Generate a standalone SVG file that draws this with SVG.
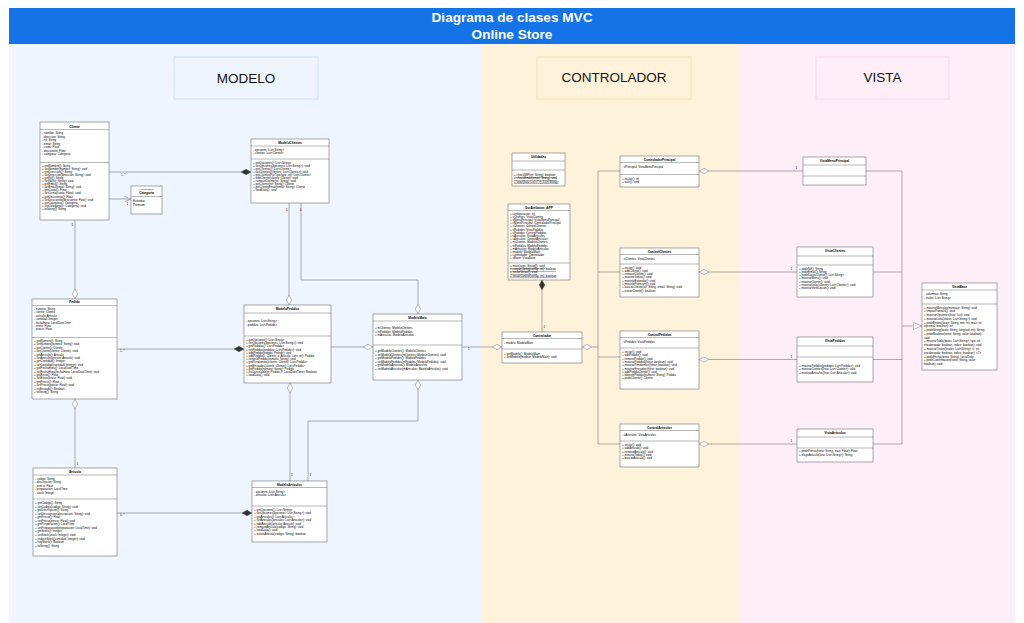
<svg xmlns="http://www.w3.org/2000/svg" width="1024" height="623" viewBox="0 0 1024 623">
<style>
.b{fill:#fff;stroke:#6f6f6f;stroke-width:0.6}
.s{stroke:#6f6f6f;stroke-width:0.5}
.t{font-family:"Liberation Sans",Arial,sans-serif;font-size:2.95px;fill:#000}
.n{font-weight:bold;font-size:3.2px;text-anchor:middle}
.u{text-decoration:underline}
.c{stroke:#8a8a8a;stroke-width:0.7;fill:none}
.lb{font-family:"Liberation Sans",Arial,sans-serif;font-size:3px;fill:#111}
.sec{font-family:"Liberation Sans",Arial,sans-serif;font-size:13.5px;fill:#111;text-anchor:middle}
.hd{font-family:"Liberation Sans",Arial,sans-serif;font-size:13.6px;font-weight:bold;fill:#fff;text-anchor:middle}
</style>
<defs>
<marker id="dF" viewBox="0 0 10 6" refX="10" refY="3" markerWidth="10" markerHeight="6" markerUnits="userSpaceOnUse" orient="auto"><path d="M0.3,3 L5,0.3 L9.7,3 L5,5.7 Z" fill="#333" stroke="#333" stroke-width="0.5"/></marker>
<marker id="dO" viewBox="0 0 10 6" refX="10" refY="3" markerWidth="10" markerHeight="6" markerUnits="userSpaceOnUse" orient="auto"><path d="M0.3,3 L5,0.3 L9.7,3 L5,5.7 Z" fill="#fff" stroke="#8a8a8a" stroke-width="0.6"/></marker>
<marker id="tri" viewBox="0 0 9 8" refX="9" refY="4" markerWidth="9" markerHeight="8" markerUnits="userSpaceOnUse" orient="auto"><path d="M0.3,0.5 L8.7,4 L0.3,7.5 Z" fill="#fff" stroke="#8a8a8a" stroke-width="0.6"/></marker>
<marker id="arr" viewBox="0 0 6 6" refX="6" refY="3" markerWidth="6" markerHeight="6" markerUnits="userSpaceOnUse" orient="auto"><path d="M0,0.5 L5.8,3 L0,5.5" fill="none" stroke="#8a8a8a" stroke-width="0.6"/></marker>
</defs>
<rect x="0" y="0" width="1024" height="623" fill="#fff"/>
<g id="background">
<rect x="9" y="44" width="472" height="579" fill="#EEF5FE"/>
<rect x="481" y="44" width="258" height="579" fill="#FFF2DB"/>
<rect x="739" y="44" width="276" height="579" fill="#FEEEF8"/>
<rect x="9" y="8" width="1006" height="36" fill="#1473E6"/>
<text class="hd" x="512" y="22">Diagrama de clases MVC</text>
<text class="hd" x="512" y="39">Online Store</text>
</g>
<g id="lbl-modelo"><rect x="174" y="57" width="144" height="42" fill="#EDF4FD" stroke="#C6DCF4" stroke-width="0.8"/><text class="sec" x="246" y="83">MODELO</text></g>
<g id="lbl-controlador"><rect x="537" y="57" width="154" height="42" fill="#FFF2DB" stroke="#F1DCA6" stroke-width="0.8"/><text class="sec" x="614" y="82">CONTROLADOR</text></g>
<g id="lbl-vista"><rect x="816" y="57" width="133" height="42" fill="#FEEEF8" stroke="#F4D0E9" stroke-width="0.8"/><text class="sec" x="882.5" y="82">VISTA</text></g>

<g id="connectors">
<path class="c" d="M109,172 H251" marker-end="url(#dF)"/>
<path class="c" d="M109,199 H131" marker-end="url(#arr)"/>
<path class="c" d="M75,220 V299" marker-end="url(#dO)"/>
<path class="c" d="M289,203 V305" marker-end="url(#dO)"/>
<path class="c" d="M301,203 V280 H418 V314" marker-end="url(#dO)"/>
<path class="c" d="M117,349 H244" marker-end="url(#dF)"/>
<path class="c" d="M75,468 V399" marker-end="url(#dO)"/>
<path class="c" d="M331,347 H373" marker-end="url(#dO)"/>
<path class="c" d="M290,481 V383" marker-end="url(#dO)"/>
<path class="c" d="M308,481 V421 H418 V380" marker-end="url(#dO)"/>
<path class="c" d="M117,513 H252" marker-end="url(#dF)"/>
<path class="c" d="M462,347 H502" marker-end="url(#dO)"/>
<path class="c" d="M542,332 V280" marker-end="url(#dF)"/>
<path class="c" d="M620,171 H598 V444 H620 M620,272 H598 M620,357 H598"/>
<path class="c" d="M598,347 H582" marker-end="url(#dO)"/>
<path class="c" d="M803,171 H699" marker-end="url(#dO)"/>
<path class="c" d="M797,272 H699" marker-end="url(#dO)"/>
<path class="c" d="M797,359.5 H699" marker-end="url(#dO)"/>
<path class="c" d="M797,444 H699" marker-end="url(#dO)"/>
<path class="c" d="M866,171 H902 V444 H873 M873,272 H902 M873,359.5 H902"/>
<path class="c" d="M902,326 H922" marker-end="url(#tri)"/>
<text class="lb" x="121" y="176">1..*</text>
<text class="lb" x="126.5" y="204.5">1</text>
<text class="lb" x="71.5" y="226">1</text>
<text class="lb" x="286" y="211">1</text>
<text class="lb" x="300" y="211">1</text>
<text class="lb" x="120" y="352">1..*</text>
<text class="lb" x="76.5" y="465">1</text>
<text class="lb" x="291" y="476">1</text>
<text class="lb" x="309.5" y="476">1</text>
<text class="lb" x="120" y="516">0..*</text>
<text class="lb" x="468" y="350">1</text>
<text class="lb" x="543.5" y="327.5">1</text>
<text class="lb" x="795.5" y="169">1</text>
<text class="lb" x="790.5" y="270">1</text>
<text class="lb" x="790.5" y="357.5">1</text>
<text class="lb" x="790.5" y="442">1</text>
</g>

<g id="cliente">
<rect class="b" x="40" y="122" width="69" height="98"/>
<text class="t n" x="74.5" y="127.5">Cliente</text>
<line class="s" x1="40" y1="129.5" x2="109" y2="129.5"/>
<text class="t" y="134"><tspan x="42" dy="0">- nombre: String</tspan><tspan x="42" dy="3.5">- direccion: String</tspan><tspan x="42" dy="3.5">- nif: String</tspan><tspan x="42" dy="3.5">- email: String</tspan><tspan x="42" dy="3.5">- cuota: Float</tspan><tspan x="42" dy="3.5">- descuento: Float</tspan><tspan x="42" dy="3.5">- categoria: Categoria</tspan></text>
<line class="s" x1="40" y1="162.5" x2="109" y2="162.5"/>
<text class="t" y="167"><tspan x="42" dy="0">+ getNombre(): String</tspan><tspan x="42" dy="3.05">+ setNombre(nombre: String): void</tspan><tspan x="42" dy="3.05">+ getDireccion(): String</tspan><tspan x="42" dy="3.05">+ setDireccion(direccion: String): void</tspan><tspan x="42" dy="3.05">+ getNif(): String</tspan><tspan x="42" dy="3.05">+ setNif(nif: String): void</tspan><tspan x="42" dy="3.05">+ getEmail(): String</tspan><tspan x="42" dy="3.05">+ setEmail(email: String): void</tspan><tspan x="42" dy="3.05">+ getCuota(): Float</tspan><tspan x="42" dy="3.05">+ setCuota(cuota: Float): void</tspan><tspan x="42" dy="3.05">+ getDescuento(): Float</tspan><tspan x="42" dy="3.05">+ setDescuento(descuento: Float): void</tspan><tspan x="42" dy="3.05">+ getCategoria(): Categoria</tspan><tspan x="42" dy="3.05">+ setCategoria(c: Categoria): void</tspan><tspan x="42" dy="3.05">+ toString(): String</tspan></text>
</g>

<g id="categoria">
<rect class="b" x="131" y="186" width="31" height="28"/>
<text class="t" x="146.5" y="190" style="font-size:2.3px;text-anchor:middle">«enumeration»</text>
<text class="t n" x="146.5" y="194">Categoria</text>
<line class="s" x1="131" y1="196.5" x2="162" y2="196.5"/>
<text class="t" y="202"><tspan x="133" dy="0">Estandar</tspan><tspan x="133" dy="3.5">Premium</tspan></text>
</g>

<g id="modelo-clientes">
<rect class="b" x="251" y="139" width="78" height="64"/>
<text class="t n" x="290" y="143.6">ModeloClientes</text>
<line class="s" x1="251" y1="146" x2="329" y2="146"/>
<text class="t" y="151"><tspan x="253" dy="0">- opciones: List&lt;String&gt;</tspan><tspan x="253" dy="3.4">- clientes: List&lt;Cliente&gt;</tspan></text>
<line class="s" x1="251" y1="159" x2="329" y2="159"/>
<text class="t" y="164"><tspan x="253" dy="0">+ getOpciones(): List&lt;String&gt;</tspan><tspan x="253" dy="2.95">+ setOpciones(opciones: List&lt;String&gt;): void</tspan><tspan x="253" dy="2.95">+ getClientes(): List&lt;Cliente&gt;</tspan><tspan x="253" dy="2.95">+ setClientes(clientes: List&lt;Cliente&gt;): void</tspan><tspan x="253" dy="2.95">+ getClientesPorTipo(tipo: int): List&lt;Cliente&gt;</tspan><tspan x="253" dy="2.95">+ addCliente(cliente: Cliente): void</tspan><tspan x="253" dy="2.95">+ removeCliente(nif: String): void</tspan><tspan x="253" dy="2.95">+ getCliente(nif: String): Cliente</tspan><tspan x="253" dy="2.95">+ getClienteEmail(email: String): Cliente</tspan><tspan x="253" dy="2.95">+ loadData(): void</tspan></text>
</g>

<g id="pedido">
<rect class="b" x="32" y="299" width="85" height="100"/>
<text class="t n" x="74.5" y="303.3">Pedido</text>
<line class="s" x1="32" y1="305.5" x2="117" y2="305.5"/>
<text class="t" y="310"><tspan x="34" dy="0">- numero: String</tspan><tspan x="34" dy="3.4">- cliente: Cliente</tspan><tspan x="34" dy="3.4">- articulo: Articulo</tspan><tspan x="34" dy="3.4">- cantidad: Integer</tspan><tspan x="34" dy="3.4">- fechaHora: LocalDateTime</tspan><tspan x="34" dy="3.4">- envio: Float</tspan><tspan x="34" dy="3.4">- precio: Float</tspan></text>
<line class="s" x1="32" y1="337.5" x2="117" y2="337.5"/>
<text class="t" y="342"><tspan x="34" dy="0">+ getNumero(): String</tspan><tspan x="34" dy="3.4">+ setNumero(numero: String): void</tspan><tspan x="34" dy="3.4">+ getCliente(): Cliente</tspan><tspan x="34" dy="3.4">+ setCliente(cliente: Cliente): void</tspan><tspan x="34" dy="3.4">+ getArticulo(): Articulo</tspan><tspan x="34" dy="3.4">+ setArticulo(articulo: Articulo): void</tspan><tspan x="34" dy="3.4">+ getCantidad(): Integer</tspan><tspan x="34" dy="3.4">+ setCantidad(cantidad: Integer): void</tspan><tspan x="34" dy="3.4">+ getFechaHora(): LocalDateTime</tspan><tspan x="34" dy="3.4">+ setFechaHora(fechaHora: LocalDateTime): void</tspan><tspan x="34" dy="3.4">+ getEnvio(): Float</tspan><tspan x="34" dy="3.4">+ setEnvio(envio: Float): void</tspan><tspan x="34" dy="3.4">+ getPrecio(): Float</tspan><tspan x="34" dy="3.4">+ setPrecio(precio: Float): void</tspan><tspan x="34" dy="3.4">+ esEnviado(): Boolean</tspan><tspan x="34" dy="3.4">+ toString(): String</tspan></text>
</g>

<g id="modelo-pedidos">
<rect class="b" x="244" y="305" width="87" height="78"/>
<text class="t n" x="287.5" y="309.6">ModeloPedidos</text>
<line class="s" x1="244" y1="313" x2="331" y2="313"/>
<text class="t" y="322"><tspan x="246" dy="0">- opciones: List&lt;String&gt;</tspan><tspan x="246" dy="3.5">- pedidos: List&lt;Pedido&gt;</tspan></text>
<line class="s" x1="244" y1="336" x2="331" y2="336"/>
<text class="t" y="341"><tspan x="246" dy="0">+ getOpciones(): List&lt;String&gt;</tspan><tspan x="246" dy="3.2">+ setOpciones(opciones: List&lt;String&gt;): void</tspan><tspan x="246" dy="3.2">+ getPedidos(): List&lt;Pedido&gt;</tspan><tspan x="246" dy="3.2">+ setPedidos(pedidos: List&lt;Pedido&gt;): void</tspan><tspan x="246" dy="3.2">+ addPedido(pedido: Pedido): void</tspan><tspan x="246" dy="3.2">+ addPedido(c: Cliente, a: Articulo, cant: int): Pedido</tspan><tspan x="246" dy="3.2">+ removePedido(numero: String): void</tspan><tspan x="246" dy="3.2">+ getPendientes(cliente: Cliente): List&lt;Pedido&gt;</tspan><tspan x="246" dy="3.2">+ getEnviados(cliente: Cliente): List&lt;Pedido&gt;</tspan><tspan x="246" dy="3.2">+ getPedido(numero: String): Pedido</tspan><tspan x="246" dy="3.2">+ esCancelable(p: Pedido, f: LocalDateTime): Boolean</tspan><tspan x="246" dy="3.2">+ loadData(): void</tspan></text>
</g>

<g id="modelo-main">
<rect class="b" x="373" y="314" width="89" height="66"/>
<text class="t n" x="417.5" y="318.6">ModeloMain</text>
<line class="s" x1="373" y1="321" x2="462" y2="321"/>
<text class="t" y="329"><tspan x="375" dy="0">+ mClientes: ModeloClientes</tspan><tspan x="375" dy="3.5">+ mPedidos: ModeloPedidos</tspan><tspan x="375" dy="3.5">+ mArticulos: ModeloArticulos</tspan></text>
<line class="s" x1="373" y1="345" x2="462" y2="345"/>
<text class="t" y="352"><tspan x="375" dy="0">+ getModeloClientes(): ModeloClientes</tspan><tspan x="375" dy="3.6">+ setModeloClientes(mClientes: ModeloClientes): void</tspan><tspan x="375" dy="3.6">+ getModeloPedidos(): ModeloPedidos</tspan><tspan x="375" dy="3.6">+ setModeloPedidos(mPedidos: ModeloPedidos): void</tspan><tspan x="375" dy="3.6">+ getModeloArticulos(): ModeloArticulos</tspan><tspan x="375" dy="3.6">+ setModeloArticulos(mArticulos: ModeloArticulos): void</tspan></text>
</g>

<g id="articulo">
<rect class="b" x="33" y="468" width="84" height="88"/>
<text class="t n" x="75" y="472.5">Articulo</text>
<line class="s" x1="33" y1="475" x2="117" y2="475"/>
<text class="t" y="480"><tspan x="35" dy="0">- codigo: String</tspan><tspan x="35" dy="3.4">- descripcion: String</tspan><tspan x="35" dy="3.4">- precio: Float</tspan><tspan x="35" dy="3.4">- preparacion: LocalTime</tspan><tspan x="35" dy="3.4">- stock: Integer</tspan></text>
<line class="s" x1="33" y1="499" x2="117" y2="499"/>
<text class="t" y="504"><tspan x="35" dy="0">+ getCodigo(): String</tspan><tspan x="35" dy="3.55">+ setCodigo(codigo: String): void</tspan><tspan x="35" dy="3.55">+ getDescripcion(): String</tspan><tspan x="35" dy="3.55">+ setDescripcion(descripcion: String): void</tspan><tspan x="35" dy="3.55">+ getPrecio(): Float</tspan><tspan x="35" dy="3.55">+ setPrecio(precio: Float): void</tspan><tspan x="35" dy="3.55">+ getPreparacion(): LocalTime</tspan><tspan x="35" dy="3.55">+ setPreparacion(preparacion: LocalTime): void</tspan><tspan x="35" dy="3.55">+ getStock(): Integer</tspan><tspan x="35" dy="3.55">+ setStock(stock: Integer): void</tspan><tspan x="35" dy="3.55">+ reducirStock(cantidad: Integer): void</tspan><tspan x="35" dy="3.55">+ hayStock(): Boolean</tspan><tspan x="35" dy="3.55">+ toString(): String</tspan></text>
</g>

<g id="modelo-articulos">
<rect class="b" x="252" y="481" width="75" height="61"/>
<text class="t n" x="289.5" y="485.6">ModeloArticulos</text>
<line class="s" x1="252" y1="487.5" x2="327" y2="487.5"/>
<text class="t" y="492.5"><tspan x="254" dy="0">- opciones: List&lt;String&gt;</tspan><tspan x="254" dy="3.5">- articulos: List&lt;Articulo&gt;</tspan></text>
<line class="s" x1="252" y1="506" x2="327" y2="506"/>
<text class="t" y="511"><tspan x="254" dy="0">+ getOpciones(): List&lt;String&gt;</tspan><tspan x="254" dy="3.4">+ setOpciones(opciones: List&lt;String&gt;): void</tspan><tspan x="254" dy="3.4">+ getArticulos(): List&lt;Articulo&gt;</tspan><tspan x="254" dy="3.4">+ setArticulos(articulos: List&lt;Articulo&gt;): void</tspan><tspan x="254" dy="3.4">+ addArticulo(articulo: Articulo): void</tspan><tspan x="254" dy="3.4">+ removeArticulo(codigo: String): void</tspan><tspan x="254" dy="3.4">+ loadData(): void</tspan><tspan x="254" dy="3.4">+ existeArticulo(codigo: String): boolean</tspan></text>
</g>

<g id="utilidades">
<rect class="b" x="512" y="153" width="53" height="33"/>
<text class="t n" x="538.5" y="158.3">Utilidades</text>
<line class="s" x1="512" y1="161" x2="565" y2="161"/>
<line class="s" x1="512" y1="170" x2="565" y2="170"/>
<text class="t u" y="176"><tspan x="514" dy="0">+ checkNIF(nif: String): boolean</tspan><tspan x="514" dy="3.3">+ checkEmail(email: String): void</tspan><tspan x="514" dy="3.3">+ listar(lista: List&lt;T&gt;): List&lt;String&gt;</tspan></text>
</g>

<g id="gui-atributos">
<rect class="b" x="508" y="204" width="62" height="76"/>
<text class="t n" x="539" y="208.6">GuiAtributos_APP</text>
<line class="s" x1="508" y1="210.5" x2="570" y2="210.5"/>
<text class="t" y="214.5"><tspan x="510" dy="0">+ configuracion: int</tspan><tspan x="510" dy="3.2">+ vClientes: VistaClientes</tspan><tspan x="510" dy="3.2">+ vMenuPrincipal: VistaMenuPrincipal</tspan><tspan x="510" dy="3.2">+ cMenuPrincipal: ControladorPrincipal</tspan><tspan x="510" dy="3.2">+ cClientes: ControlClientes</tspan><tspan x="510" dy="3.2">+ vPedidos: VistaPedidos</tspan><tspan x="510" dy="3.2">+ cPedidos: ControlPedidos</tspan><tspan x="510" dy="3.2">+ vArticulos: VistaArticulos</tspan><tspan x="510" dy="3.2">+ cArticulos: ControlArticulos</tspan><tspan x="510" dy="3.2">+ mClientes: ModeloClientes</tspan><tspan x="510" dy="3.2">+ mPedidos: ModeloPedidos</tspan><tspan x="510" dy="3.2">+ mArticulos: ModeloArticulos</tspan><tspan x="510" dy="3.2">+ modelo: ModeloMain</tspan><tspan x="510" dy="3.2">+ controlador: Controlador</tspan><tspan x="510" dy="3.2">+ vBase: VistaBase</tspan></text>
<line class="s" x1="508" y1="263" x2="570" y2="263"/>
<text class="t u" y="267"><tspan x="510" dy="0">+ main(args: String[]): void</tspan><tspan x="510" dy="3.2">+ cargarConfig(config: int): boolean</tspan><tspan x="510" dy="3.2">+ iniciarVistas(): void</tspan><tspan x="510" dy="3.2">+ iniciarControl(config: int): boolean</tspan></text>
</g>

<g id="controlador">
<rect class="b" x="502" y="332" width="80" height="31"/>
<text class="t n" x="542" y="336.6">Controlador</text>
<line class="s" x1="502" y1="338.5" x2="582" y2="338.5"/>
<text class="t" x="504" y="344">- modelo: ModeloMain</text>
<line class="s" x1="502" y1="349" x2="582" y2="349"/>
<text class="t" y="354.5"><tspan x="504" dy="0">+ getModelo(): ModeloMain</tspan><tspan x="504" dy="3.3">+ setModelo(modelo: ModeloMain): void</tspan></text>
</g>

<g id="controlador-principal">
<rect class="b" x="620" y="156" width="79" height="31"/>
<text class="t n" x="659.5" y="160.6">ControladorPrincipal</text>
<line class="s" x1="620" y1="162.5" x2="699" y2="162.5"/>
<text class="t" x="622" y="168">- vPrincipal: VistaMenuPrincipal</text>
<line class="s" x1="620" y1="174.5" x2="699" y2="174.5"/>
<text class="t" y="179.5"><tspan x="622" dy="0">+ iniciar(): int</tspan><tspan x="622" dy="3.3">+ salir(): void</tspan></text>
</g>

<g id="control-clientes">
<rect class="b" x="620" y="248" width="79" height="49"/>
<text class="t n" x="659.5" y="252.6">ControlClientes</text>
<line class="s" x1="620" y1="254.5" x2="699" y2="254.5"/>
<text class="t" x="622" y="259.5">- vClientes: VistaClientes</text>
<line class="s" x1="620" y1="264" x2="699" y2="264"/>
<text class="t" y="268.5"><tspan x="622" dy="0">+ iniciar(): void</tspan><tspan x="622" dy="3.3">+ addCliente(): void</tspan><tspan x="622" dy="3.3">+ removeCliente(): void</tspan><tspan x="622" dy="3.3">+ mostrarTodos(): void</tspan><tspan x="622" dy="3.3">+ mostrarEstandar(): void</tspan><tspan x="622" dy="3.3">+ mostrarPremium(): void</tspan><tspan x="622" dy="3.3">+ buscarCliente(nif: String, email: String): void</tspan><tspan x="622" dy="3.3">+ existeCliente(): boolean</tspan></text>
</g>

<g id="control-pedidos">
<rect class="b" x="620" y="331" width="79" height="58"/>
<text class="t n" x="659.5" y="335.6">ControlPedidos</text>
<line class="s" x1="620" y1="337.5" x2="699" y2="337.5"/>
<text class="t" x="622" y="343">- vPedidos: VistaPedidos</text>
<line class="s" x1="620" y1="348" x2="699" y2="348"/>
<text class="t" y="353"><tspan x="622" dy="0">+ iniciar(): void</tspan><tspan x="622" dy="3.3">+ addPedido(): void</tspan><tspan x="622" dy="3.3">+ removePedido(): void</tspan><tspan x="622" dy="3.3">+ mostrarPedidos(filtrar: boolean): void</tspan><tspan x="622" dy="3.3">+ mostrarPendientes(filtrar: boolean): void</tspan><tspan x="622" dy="3.3">+ mostrarEnviados(filtrar: boolean): void</tspan><tspan x="622" dy="3.3">+ addPedidoCliente(): void</tspan><tspan x="622" dy="3.3">+ obtenerPedido(numero: String): Pedido</tspan><tspan x="622" dy="3.3">+ pedirCliente(): Cliente</tspan></text>
</g>

<g id="control-articulos">
<rect class="b" x="620" y="424" width="79" height="43"/>
<text class="t n" x="659.5" y="428.6">ControlArticulos</text>
<line class="s" x1="620" y1="430.5" x2="699" y2="430.5"/>
<text class="t" x="622" y="436">- vArticulos: VistaArticulos</text>
<line class="s" x1="620" y1="441" x2="699" y2="441"/>
<text class="t" y="446"><tspan x="622" dy="0">+ iniciar(): void</tspan><tspan x="622" dy="3.3">+ addArticulo(): void</tspan><tspan x="622" dy="3.3">+ removeArticulo(): void</tspan><tspan x="622" dy="3.3">+ mostrarTodos(): void</tspan><tspan x="622" dy="3.3">+ buscarArticulo(): void</tspan></text>
</g>

<g id="vista-menu-principal">
<rect class="b" x="803" y="157" width="63" height="28"/>
<text class="t n" x="834.5" y="161.6">VistaMenuPrincipal</text>
<line class="s" x1="803" y1="165" x2="866" y2="165"/>
<line class="s" x1="803" y1="176" x2="866" y2="176"/>
</g>

<g id="vista-clientes">
<rect class="b" x="797" y="247" width="76" height="50"/>
<text class="t n" x="835" y="251.6">VistaClientes</text>
<line class="s" x1="797" y1="256" x2="873" y2="256"/>
<line class="s" x1="797" y1="265" x2="873" y2="265"/>
<text class="t" y="269.5"><tspan x="799" dy="0">+ pedirNif(): String</tspan><tspan x="799" dy="3.3">+ pedirEmail(): String</tspan><tspan x="799" dy="3.3">+ pedirDatosCliente(): List&lt;String&gt;</tspan><tspan x="799" dy="3.3">+ mostrarMenu(): void</tspan><tspan x="799" dy="3.3">+ mostrarCliente(): void</tspan><tspan x="799" dy="3.3">+ mostrarLista(clientes: List&lt;Cliente&gt;): void</tspan><tspan x="799" dy="3.3">+ mostrarVerificacion(): void</tspan></text>
</g>

<g id="vista-pedidos">
<rect class="b" x="797" y="337" width="76" height="45"/>
<text class="t n" x="835" y="341.6">VistaPedidos</text>
<line class="s" x1="797" y1="346" x2="873" y2="346"/>
<line class="s" x1="797" y1="357" x2="873" y2="357"/>
<text class="t" y="367"><tspan x="799" dy="0">+ mostrarPedidos(pedidos: List&lt;Pedido&gt;): void</tspan><tspan x="799" dy="3.4">+ mostrarClientes(lista: List&lt;Cliente&gt;): void</tspan><tspan x="799" dy="3.4">+ mostrarArticulos(lista: List&lt;Articulo&gt;): void</tspan></text>
</g>

<g id="vista-articulos">
<rect class="b" x="797" y="429" width="76" height="33"/>
<text class="t n" x="835" y="433.6">VistaArticulos</text>
<line class="s" x1="797" y1="437" x2="873" y2="437"/>
<line class="s" x1="797" y1="448" x2="873" y2="448"/>
<text class="t" y="452"><tspan x="799" dy="0">+ pedirPrecio(texto: String, max: Float): Float</tspan><tspan x="799" dy="3.6">+ elegirArticulo(lista: List&lt;String&gt;): String</tspan></text>
</g>

<g id="vista-base">
<rect class="b" x="922" y="283" width="75" height="87"/>
<text class="t n" x="959.5" y="287.8">VistaBase</text>
<line class="s" x1="922" y1="290" x2="997" y2="290"/>
<text class="t" y="295"><tspan x="924" dy="0">- columnas: String</tspan><tspan x="924" dy="3.5">- titulos: List&lt;String&gt;</tspan></text>
<line class="s" x1="922" y1="304" x2="997" y2="304"/>
<text class="t" y="308.5"><tspan x="924" dy="0">+ mostrarMensaje(mensaje: String): void</tspan><tspan x="924" dy="3.77">+ limpiarPantalla(): void</tspan><tspan x="924" dy="3.77">+ mostrarOpciones(lista: List): void</tspan><tspan x="924" dy="3.77">+ mostrarLista(titulos: List&lt;String&gt;): void</tspan><tspan x="924" dy="3.77">+ pedirEntero(texto: String, min: int, max: int,</tspan><tspan x="924" dy="3.77">opcional: boolean): int</tspan><tspan x="924" dy="3.77">+ pedirString(texto: String, longitud: int): String</tspan><tspan x="924" dy="3.77">+ pedirBoolean(texto: String, valor: boolean):</tspan><tspan x="924" dy="3.77">void</tspan><tspan x="924" dy="3.77">+ mostrarTabla(datos: List&lt;String&gt;, tipo: int,</tspan><tspan x="924" dy="3.77">encabezado: boolean, indice: boolean): void</tspan><tspan x="924" dy="3.77">+ mostrarTitulos(titulos: List&lt;String&gt;, n: int,</tspan><tspan x="924" dy="3.77">encabezado: boolean, indice: boolean): &lt;T&gt;</tspan><tspan x="924" dy="3.77">+ pedirFecha(texto: String): LocalDate</tspan><tspan x="924" dy="3.77">+ pedirConfirmacion(texto: String, valor:</tspan><tspan x="924" dy="3.77">boolean): void</tspan></text>
</g>
</svg>
